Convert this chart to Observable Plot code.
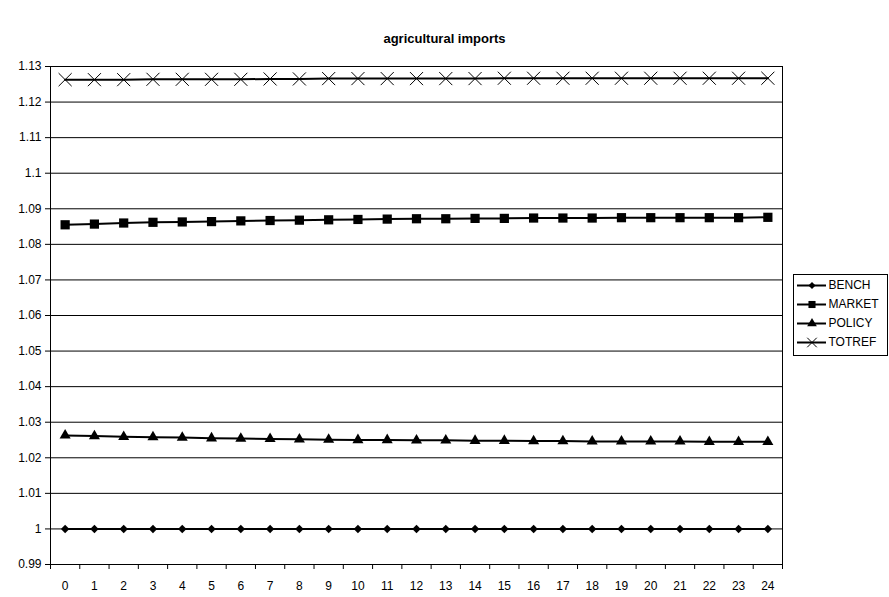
<!DOCTYPE html>
<html>
<head>
<meta charset="utf-8">
<script src="https://cdn.jsdelivr.net/npm/d3@7"></script>
<script src="https://cdn.jsdelivr.net/npm/@observablehq/plot@0.6"></script>
<style>
  html, body { margin: 0; padding: 0; background: #fff; }
  #wrap { position: relative; width: 889px; height: 597px; font-family: "Liberation Sans", Arial, sans-serif; }
  #title { position: absolute; left: 0; width: 889px; top: 31px; text-align: center; font-size: 13px; font-weight: bold; color: #000; }
  #legend { position: absolute; left: 793px; top: 274px; }
</style>
</head>
<body>
<div id="wrap">
  <div id="chart"></div>
  <div id="title">agricultural imports</div>
  <div id="legend"></div>
</div>
<script>
// periods shown on the x axis
const periods = d3.range(0, 25);
const seriesNames = ["BENCH", "MARKET", "POLICY", "TOTREF"];

const bench = Array(25).fill(1.0);
const market = [1.0855, 1.0857, 1.0860, 1.0862, 1.0863, 1.0864, 1.0866, 1.0867, 1.0868, 1.0869,
                1.0870, 1.0871, 1.0872, 1.0872, 1.0873, 1.0873, 1.0874, 1.0874, 1.0874, 1.0875,
                1.0875, 1.0875, 1.0875, 1.0875, 1.0876];
const policy = [1.0263, 1.0261, 1.0259, 1.0258, 1.0257, 1.0255, 1.0254, 1.0253, 1.0252, 1.0251,
                1.0250, 1.0250, 1.0249, 1.0249, 1.0248, 1.0248, 1.0247, 1.0247, 1.0246, 1.0246,
                1.0246, 1.0246, 1.0245, 1.0245, 1.0245];
const totref = [1.1263, 1.1263, 1.1263, 1.1264, 1.1264, 1.1264, 1.1264, 1.1265, 1.1265, 1.1266,
                1.1266, 1.1266, 1.1266, 1.1266, 1.1266, 1.1267, 1.1267, 1.1267, 1.1267, 1.1267,
                1.1267, 1.1267, 1.1267, 1.1267, 1.1267];

const yTicks = d3.range(0, 15).map(i => +(0.99 + i * 0.01).toFixed(2));

const valuesBySeries = { BENCH: bench, MARKET: market, POLICY: policy, TOTREF: totref };
const rows = seriesNames.flatMap(s => periods.map((p, i) => ({ series: s, period: p, value: valuesBySeries[s][i] })));
const only = s => rows.filter(d => d.series === s);

const markers = {
  BENCH:  { symbol: "diamond2", r: 3.8, fill: "#000", stroke: "none" },
  MARKET: { symbol: "square",   r: 5.2, fill: "#000", stroke: "none" },
  POLICY: { symbol: "triangle", r: 4.1, fill: "#000", stroke: "none" },
  TOTREF: { symbol: "times",    r: 6,   fill: "none", stroke: "#000", strokeWidth: 1 }
};
// the legend uses slightly smaller markers
const legendMarkers = {
  BENCH:  { ...markers.BENCH,  r: 3.2 },
  MARKET: { ...markers.MARKET, r: 4.0 },
  POLICY: { ...markers.POLICY, r: 3.6 },
  TOTREF: { ...markers.TOTREF, r: 4.4 }
};

const fontStyle = { fontFamily: "Liberation Sans, Arial, sans-serif", fontSize: "12px", color: "#000", background: "#fff" };

const chart = Plot.plot({
  width: 889,
  height: 597,
  marginLeft: 50,
  marginRight: 107,
  marginTop: 66,
  marginBottom: 33,
  style: fontStyle,
  x: { domain: [-0.5, 24.5] },
  y: { domain: [0.99, 1.13] },
  marks: [
    Plot.gridY(yTicks, { stroke: "#000", strokeOpacity: 1, strokeWidth: 1 }),
    Plot.frame({ stroke: "#000", strokeWidth: 1 }),
    Plot.axisY(yTicks, { tickSize: 5, tickPadding: 4, tickFormat: d => String(d), label: null, stroke: "#000", fill: "#000" }),
    Plot.axisX(d3.range(-0.5, 25, 1), { tickSize: 5, tickFormat: () => "", label: null, stroke: "#000" }),
    Plot.axisX(periods, { tickSize: 0, tickPadding: 17, tickFormat: d => String(d), label: null, fill: "#000" }),
    Plot.line(rows, { x: "period", y: "value", z: "series", stroke: "#000", strokeWidth: 2 }),
    ...seriesNames.map(s => Plot.dot(only(s), { x: "period", y: "value", ...markers[s] }))
  ]
});
document.getElementById("chart").append(chart);

// legend: a short line with the series marker, then the series name
const legend = Plot.plot({
  width: 94,
  height: 81,
  marginLeft: 4,
  marginRight: 61,
  marginTop: 0,
  marginBottom: 0,
  style: { ...fontStyle, overflow: "visible" },
  x: { domain: [0, 1], axis: null },
  y: { domain: seriesNames, range: [11, 68], type: "point", padding: 0, axis: null },
  marks: [
    Plot.frame({ stroke: "#000", strokeWidth: 1, insetLeft: -4, insetRight: -61 }),
    Plot.ruleY(seriesNames, { y: d => d, x1: 0, x2: 1, stroke: "#000", strokeWidth: 2 }),
    ...seriesNames.map(s => Plot.dot([s], { x: 0.5, y: d => d, ...legendMarkers[s] })),
    Plot.text(seriesNames, { x: 1, y: d => d, text: d => d, textAnchor: "start", dx: 2, fill: "#000" })
  ]
});
document.getElementById("legend").append(legend);
</script>
</body>
</html>
